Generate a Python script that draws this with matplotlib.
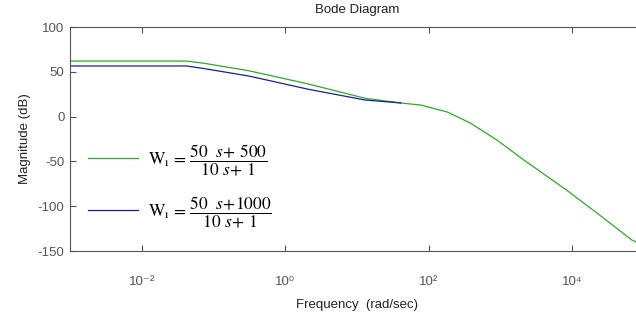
import matplotlib
matplotlib.use("Agg")
import matplotlib.pyplot as plt

plt.rcParams['font.family'] = ['Liberation Sans', 'DejaVu Sans']
plt.rcParams['mathtext.fontset'] = 'stix'
plt.rcParams['axes.unicode_minus'] = False

# data
freq_green = [1e-3, 0.042, 0.074, 0.31, 2.1, 13, 41, 77, 182, 378, 890, 2110, 8300, 21600, 67600, 1e5]
mag_green = [62.0, 62.0, 59.5, 51.2, 36.4, 20.4, 15.2, 12.9, 5.1, -7.1, -26.1, -48.4, -81.9, -107.0, -137.7, -144.0]

freq_blue = [1e-3, 0.042, 0.074, 0.31, 2.1, 13, 41]
mag_blue = [56.5, 56.5, 53.6, 45.3, 30.5, 18.5, 15.2]

label_green = r'$\mathrm{W}_{\mathrm{ı}}\,=\,\dfrac{50\ \ s\!+\,500}{10\ s\!+\,1}$'
label_blue = r'$\mathrm{W}_{\mathrm{ı}}\,=\,\dfrac{50\ \ s\!+\!1000}{10\ s\!+\,1}$'

xticks = [1e-2, 1e0, 1e2, 1e4]
xticklabels = ['10\u207b\u00b2', '10\u2070', '10\u00b2', '10\u2074']
yticks = [-150, -100, -50, 0, 50, 100]

W, H = 636, 321
fig = plt.figure(figsize=(W / 100, H / 100), dpi=100)
ax = fig.add_axes([70 / W, (H - 251) / H, 574 / W, 224 / H])

ax.semilogx(freq_green, mag_green, color='#2ea82e', lw=0.9, label=label_green)
ax.semilogx(freq_blue, mag_blue, color='#1c1ca0', lw=0.9, label=label_blue)

ax.set_xlim(1e-3, 1e5)
ax.set_ylim(-150, 100)
ax.set_xticks(xticks)
ax.set_xticklabels(xticklabels)
ax.minorticks_off()
ax.set_yticks(yticks)

spine_c = '#555555'
for s in ax.spines.values():
    s.set_color(spine_c)
    s.set_linewidth(0.8)
ax.tick_params(direction='in', length=4, width=0.8, color=spine_c,
               top=True, right=True, labelsize=9.5, labelcolor='#555555')
ax.tick_params(axis='x', pad=18)
ax.tick_params(axis='y', pad=4)

ax.set_title('Bode Diagram', fontsize=9.5, pad=10, color='#222222')
ax.set_xlabel('Frequency  (rad/sec)', fontsize=9.5, labelpad=8, color='#222222')
ax.set_ylabel('Magnitude (dB)', fontsize=9.5, labelpad=5, color='#222222')

leg = ax.legend(loc='upper left', bbox_to_anchor=(0.031, 0.485), frameon=False,
                borderaxespad=0, borderpad=0, fontsize=12.5, handlelength=2.9,
                handletextpad=0.55, labelspacing=0.95)

fig.savefig('out.png', dpi=100)
